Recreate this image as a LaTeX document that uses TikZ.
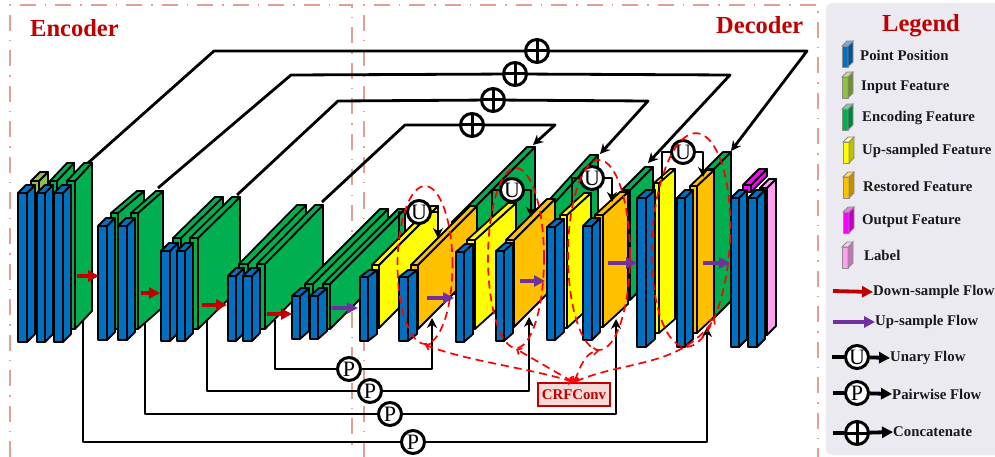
\documentclass[tikz,border=0pt]{standalone}
\usepackage{xcolor}
\usepackage{fontspec}
\setmainfont{Liberation Serif}
\usetikzlibrary{arrows.meta,positioning,shapes.geometric,calc}
\definecolor{ptblue}{HTML}{0070C0}
\definecolor{inolive}{HTML}{92C040}
\definecolor{encgreen}{HTML}{00B050}
\definecolor{upyellow}{HTML}{FFFF00}
\definecolor{resorange}{HTML}{FFC000}
\definecolor{outmagenta}{HTML}{FF00FF}
\definecolor{labpink}{HTML}{FFA0F0}
\definecolor{downred}{HTML}{C00000}
\definecolor{uppurple}{HTML}{7030A0}
\definecolor{framepink}{HTML}{E0A098}
\definecolor{legendbg}{HTML}{ECEAF1}
\definecolor{crffill}{HTML}{F5DAD8}
% front face is a node, the two other faces hang on its anchors
% name, colour, x0, y0, x1, y1, depth x, depth y
\newcommand{\cuboid}[8]{%
  \node[face, fill=#2, minimum width={(#5-#3)*1pt}, minimum height={(#6-#4)*1pt}] (#1) at (#3,#4) {};
  \draw[edge, fill=#2] (#1.north east) -- ++(#7,-#8) -- ++(0,#6-#4) -- (#1.south east) -- cycle;
  \draw[edge, fill=#2] (#1.north west) -- ++(#7,-#8) -- ++(#5-#3,0) -- (#1.north east) -- cycle;
}
% name, colour, x0, y0: small legend swatch
\newcommand{\swatch}[4]{%
  \node[face, draw=black!45, line width=0.9pt, fill=#2, minimum width=6pt, minimum height=21pt] (#1) at (#3,#4) {};
  \draw[draw=black!45, line width=0.9pt, fill=#2!75!black] (#1.north east) -- ++(5,-5) -- ++(0,21) -- (#1.south east) -- cycle;
  \draw[draw=black!45, line width=0.9pt, fill=#2!55!white] (#1.north west) -- ++(5,-5) -- ++(6,0) -- (#1.north east) -- cycle;
}
\begin{document}
\begin{tikzpicture}[
  x=1pt, y=-1pt,
  face/.style={rectangle, draw=black, line width=1.8pt, anchor=north west, inner sep=0pt, outer sep=0pt, line join=round},
  edge/.style={draw=black, line width=1.8pt, line join=round},
  frameline/.style={draw=framepink, line width=1.6pt, dash pattern=on 16pt off 9pt on 1.5pt off 9pt},
  skipline/.style={draw=black, line width=2.8pt, line join=round},
  skiparr/.style={skipline, -{Stealth[length=10pt,width=10pt]}},
  flowcirc/.style={circle, draw=black, line width=3pt, fill=white, minimum size=23pt, inner sep=0pt, font=\fontsize{22}{22}\selectfont},
  addcirc/.style={flowcirc, path picture={
    \draw[black, line width=3pt] (path picture bounding box.north) -- (path picture bounding box.south);
    \draw[black, line width=3pt] (path picture bounding box.west) -- (path picture bounding box.east);}},
  downarr/.style={draw=downred, line width=3.4pt, -{Triangle[length=11pt,width=11pt]}},
  uparr/.style={draw=uppurple, line width=3.4pt, -{Triangle[length=11pt,width=11pt]}},
  crfring/.style={ellipse, draw=red, line width=1.7pt, dash pattern=on 8pt off 5pt, inner sep=0pt},
  crflink/.style={draw=red, line width=1.7pt, dash pattern=on 8pt off 5pt, {Straight Barb[length=4pt,width=7pt]}-{Straight Barb[length=4pt,width=7pt]}},
  legtext/.style={anchor=west, inner sep=0pt, text=black!90, font=\fontsize{14.8}{15}\selectfont\bfseries},
  title/.style={anchor=west, inner sep=0pt, text=downred, font=\fontsize{24.5}{24}\selectfont\bfseries},
  legflow/.style={draw=black, line width=3.8pt, -{Triangle[length=11pt,width=11pt]}},
]
\useasboundingbox (0,0) rectangle (995,457);

% frames and legend panel
\draw[frameline] (10,457) -- (10,5) -- (352,5) -- (352,448);
\draw[frameline] (364,457) -- (364,5) -- (818,5) -- (818,457);
\fill[legendbg, rounded corners=6pt] (826,3) rectangle (1001,455);
\node[title] (enc) at (30,28) {Encoder};
\node[title] (dec) at (716,25) {Decoder};

% encoder stage 1
\cuboid{g1a}{encgreen}{50}{181}{57}{329}{17}{18}
\cuboid{g1b}{encgreen}{67}{181}{75}{329}{17}{18}
\cuboid{inp}{inolive}{31}{181}{39}{240}{9}{9}
\cuboid{b1a}{ptblue}{18}{193}{27}{342}{8}{8}
\cuboid{b1b}{ptblue}{37}{193}{45}{342}{8}{8}
\cuboid{b1c}{ptblue}{54}{193}{63}{342}{8}{8}
% stage 2
\cuboid{g2a}{encgreen}{111}{213}{118}{329}{26}{22}
\cuboid{g2b}{encgreen}{131}{213}{138}{329}{25}{22}
\cuboid{b2a}{ptblue}{98}{226}{107}{340}{8}{8}
\cuboid{b2b}{ptblue}{118}{226}{127}{340}{8}{8}
% stage 3
\cuboid{g3a}{encgreen}{173}{238}{181}{329}{42}{41}
\cuboid{g3b}{encgreen}{190}{238}{198}{329}{42}{41}
\cuboid{b3a}{ptblue}{161}{251}{170}{341}{8}{8}
\cuboid{b3b}{ptblue}{177}{251}{185}{341}{8}{8}
% stage 4
\cuboid{g4a}{encgreen}{239}{264}{248}{329}{58}{59}
\cuboid{g4b}{encgreen}{257}{264}{265}{329}{58}{59}
\cuboid{b4a}{ptblue}{228}{276}{236}{341}{8}{8}
\cuboid{b4b}{ptblue}{243}{276}{252}{341}{8}{8}
% stage 5
\cuboid{g5a}{encgreen}{305}{284}{313}{329}{75}{75}
\cuboid{g5b}{encgreen}{323}{284}{330}{329}{75}{75}
\cuboid{b5a}{ptblue}{292}{296}{300}{339}{9}{8}
\cuboid{b5b}{ptblue}{310}{296}{318}{339}{9}{8}

% decoder greens stand behind everything else
\cuboid{g6}{encgreen}{452}{222}{460}{294}{75}{75}
\cuboid{g7}{encgreen}{540}{210}{548}{290}{50}{55}
\cuboid{g8}{encgreen}{622}{190}{630}{300}{23}{23}
\cuboid{g9}{encgreen}{706}{169}{714}{318}{17}{17}
% decoder stage 1
\cuboid{y1}{upyellow}{372}{265}{379}{328}{59}{59}
\cuboid{b6a}{ptblue}{360}{277}{368}{341}{9}{7}
\cuboid{o1}{resorange}{411}{265}{418}{329}{59}{59}
\cuboid{b6b}{ptblue}{399}{277}{408}{341}{9}{7}
% decoder stage 2
\cuboid{y2}{upyellow}{467}{240}{475}{329}{41}{37}
\cuboid{b7a}{ptblue}{456}{252}{464}{342}{9}{8}
\cuboid{o2}{resorange}{506}{240}{514}{327}{41}{41}
\cuboid{b7b}{ptblue}{496}{251}{504}{341}{9}{8}
% decoder stage 3
\cuboid{y3}{upyellow}{560}{215}{567}{328}{24}{22}
\cuboid{b8a}{ptblue}{547}{227}{555}{340}{9}{8}
\cuboid{o3}{resorange}{595}{215}{603}{327}{25}{23}
\cuboid{b8b}{ptblue}{583}{226}{592}{340}{8}{8}
% decoder stage 4
\cuboid{y4}{upyellow}{654}{183}{659}{333}{16}{14}
\cuboid{b9a}{ptblue}{637}{198}{646}{347}{9}{8}
\cuboid{o4}{resorange}{690}{186}{697}{333}{17}{16}
\cuboid{b9b}{ptblue}{677}{198}{685}{347}{8}{8}
% output
\cuboid{outp}{outmagenta}{743}{185}{751}{192}{16}{16}
\cuboid{lab}{labpink}{760}{188}{767}{335}{9}{9}
\cuboid{b10a}{ptblue}{731}{198}{739}{347}{8}{8}
\cuboid{b10b}{ptblue}{748}{198}{757}{347}{8}{8}

% down and up sample flows
\coordinate (d1a) at (77,276);  \coordinate (d1b) at (99,276);
\coordinate (d2a) at (141,293); \coordinate (d2b) at (160,293);
\coordinate (d3a) at (202,305); \coordinate (d3b) at (227,305);
\coordinate (d4a) at (267,314); \coordinate (d4b) at (292,314);
\draw[downarr] (d1a) -- (d1b);
\draw[downarr] (d2a) -- (d2b);
\draw[downarr] (d3a) -- (d3b);
\draw[downarr] (d4a) -- (d4b);
\coordinate (u0a) at (332,308); \coordinate (u0b) at (358,308);
\coordinate (u1a) at (427,298); \coordinate (u1b) at (454,298);
\coordinate (u2a) at (520,281); \coordinate (u2b) at (545,281);
\coordinate (u3a) at (608,263); \coordinate (u3b) at (637,263);
\coordinate (u4a) at (703,263); \coordinate (u4b) at (730,263);
\draw[uparr] (u0a) -- (u0b);
\draw[uparr] (u1a) -- (u1b);
\draw[uparr] (u2a) -- (u2b);
\draw[uparr] (u3a) -- (u3b);
\draw[uparr] (u4a) -- (u4b);

% concatenate skips
\node[addcirc] (add1) at (537,51) {};
\node[addcirc] (add2) at (515,74) {};
\node[addcirc] (add3) at (493,100) {};
\node[addcirc] (add4) at (472,125) {};
\coordinate (sk1s) at (88,163);  \coordinate (sk1e) at (731,151);
\coordinate (sk2s) at (158,188); \coordinate (sk2e) at (648,163);
\coordinate (sk3s) at (237,195); \coordinate (sk3e) at (600,154);
\coordinate (sk4s) at (322,202); \coordinate (sk4e) at (533,145);
\draw[skipline] (sk1s) -- (214,51) -- (add1);
\draw[skiparr] (add1) -- (807,51) -- (sk1e);
\draw[skipline] (sk2s) -- (291,75) -- (add2);
\draw[skiparr] (add2) -- (730,75) -- (sk2e);
\draw[skipline] (sk3s) -- (338,101) -- (add3);
\draw[skiparr] (add3) -- (648,101) -- (sk3e);
\draw[skipline] (sk4s) -- (405,125) -- (add4);
\draw[skiparr] (add4) -- (555,125) -- (sk4e);

% pairwise flows
\node[flowcirc] (p1) at (349,369) {P};
\node[flowcirc] (p2) at (370,391) {P};
\node[flowcirc] (p3) at (390,414) {P};
\node[flowcirc] (p4) at (413,442) {P};
\coordinate (p1s) at (275,320); \coordinate (p1e) at (432,318);
\coordinate (p2s) at (207,320); \coordinate (p2e) at (529,317);
\coordinate (p3s) at (145,322); \coordinate (p3e) at (616,319);
\coordinate (p4s) at (83,320);  \coordinate (p4e) at (707,327);
\draw[skipline] (p1s) |- (p1);
\draw[skiparr] (p1) -| (p1e);
\draw[skipline] (p2s) |- (p2);
\draw[skiparr] (p2) -| (p2e);
\draw[skipline] (p3s) |- (p3);
\draw[skiparr] (p3) -| (p3e);
\draw[skipline] (p4s) |- (p4);
\draw[skiparr] (p4) -| (p4e);

% unary flows
\node[flowcirc] (un1) at (419,212) {U};
\node[flowcirc] (un2) at (512,190) {U};
\node[flowcirc] (un3) at (592,178) {U};
\node[flowcirc] (un4) at (683,152) {U};
\coordinate (un1s) at (399,240); \coordinate (un1e) at (438,238);
\coordinate (un2s) at (492,218); \coordinate (un2e) at (531,217);
\coordinate (un3s) at (572,203); \coordinate (un3e) at (612,202);
\coordinate (un4s) at (662,180); \coordinate (un4e) at (703,177);
\draw[skipline] (un1s) |- (un1);
\draw[skiparr] (un1) -| (un1e);
\draw[skipline] (un2s) |- (un2);
\draw[skiparr] (un2) -| (un2e);
\draw[skipline] (un3s) |- (un3);
\draw[skiparr] (un3) -| (un3e);
\draw[skipline] (un4s) |- (un4);
\draw[skiparr] (un4) -| (un4e);

% CRF rings
\node[crfring, minimum width=55pt, minimum height=158pt] (ring1) at (425,265) {};
\node[crfring, minimum width=56pt, minimum height=180pt] (ring2) at (516,258) {};
\node[crfring, minimum width=62pt, minimum height=190pt] (ring3) at (599,255) {};
\node[crfring, minimum width=78pt, minimum height=214pt, rotate=-3] (ring4) at (691,240) {};
\node[draw=downred, line width=1.5pt, fill=crffill, text=downred, inner sep=0pt,
      minimum width=72pt, minimum height=23pt, font=\fontsize{14.8}{15}\selectfont\bfseries] (crf) at (574,394.5) {CRFConv};
\draw[crflink] (crf.north) .. controls (530,368) and (470,362) .. (ring1.south);
\draw[crflink] (crf.north) .. controls (552,370) and (535,360) .. (ring2.south);
\draw[crflink] (crf.north) .. controls (580,368) and (585,352) .. (ring3.south);
\draw[crflink] (crf.north) .. controls (625,360) and (680,368) .. (ring4.290);

% legend
\node[anchor=center, inner sep=0pt, text=downred, font=\fontsize{24.5}{24}\selectfont\bfseries] (legtitle) at (921,26) {Legend};
\swatch{ic1}{ptblue}{842}{46}
\swatch{ic2}{inolive}{842}{77}
\swatch{ic3}{encgreen}{842}{109}
\swatch{ic4}{upyellow}{843}{142}
\swatch{ic5}{resorange}{843}{177}
\swatch{ic6}{outmagenta}{843}{212}
\swatch{ic7}{labpink}{842}{247}
\node[legtext] (l1) at (860,55) {Point Position};
\node[legtext] (l2) at (861,87) {Input Feature};
\node[legtext] (l3) at (862,118) {Encoding Feature};
\node[legtext] (l4) at (862,151) {Up-sampled Feature};
\node[legtext] (l5) at (863,186) {Restored Feature};
\node[legtext] (l6) at (862,221) {Output Feature};
\node[legtext] (l7) at (864,255) {Label};

\node[legtext] (l8) at (873,292) {Down-sample Flow};
\node[legtext] (l9) at (875,322) {Up-sample Flow};
\coordinate (l8s) at (833,291);
\coordinate (l9s) at (833,322);
\draw[legflow, draw=downred] (l8s) -- (l8.west);
\draw[legflow, draw=uppurple] (l9s) -- (l9.west);

\node[legtext] (l10) at (890,358) {Unary Flow};
\node[legtext] (l11) at (892,394) {Pairwise Flow};
\node[legtext] (l12) at (893,432) {Concatenate};
\node[flowcirc] (ku) at (857,357) {U};
\node[flowcirc] (kp) at (857,393) {P};
\node[addcirc] (ka) at (857,433) {};
\coordinate (kus) at (832,357);
\coordinate (kps) at (833,393);
\coordinate (kas) at (833,433);
\draw[draw=black, line width=3.8pt] (kus) -- (ku);
\draw[legflow] (ku) -- (l10.west);
\draw[draw=black, line width=3.8pt] (kps) -- (kp);
\draw[legflow] (kp) -- (l11.west);
\draw[draw=black, line width=3.8pt] (kas) -- (ka);
\draw[legflow] (ka) -- (l12.west);
\end{tikzpicture}
\end{document}
